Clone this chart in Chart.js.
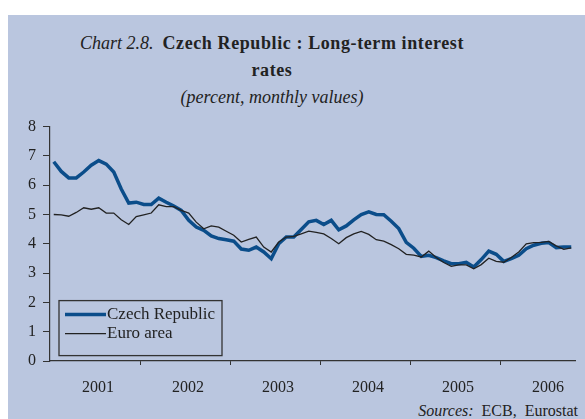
<!DOCTYPE html>
<html>
<head>
<meta charset="utf-8">
<title>Czech Republic : Long-term interest rates</title>
<script src="https://cdn.jsdelivr.net/npm/chart.js@4"></script>
<style>
  html, body { margin: 0; padding: 0; background: #fff; }
  body { width: 585px; height: 419px; position: relative; overflow: hidden; font-family: "Liberation Serif", "Times New Roman", serif; color: #222; }
  .panel { position: absolute; left: 8px; top: 15px; width: 577px; height: 404px; background: #bac6df; }
  .title { position: absolute; left: 72px; width: 400px; top: 30px; text-align: center; font-size: 18px; line-height: 27px; }
  .title b { letter-spacing: 0.6px; }
  #chart { position: absolute; left: 0; top: 110px; }
  .sources { position: absolute; right: 7px; top: 401px; font-size: 16px; line-height: 20px; }
</style>
</head>
<body>
<div class="panel"></div>
<div class="title"><i>Chart 2.8.</i>&nbsp; <b>Czech Republic : Long-term interest<br>rates</b><br><i>(percent, monthly values)</i></div>
<canvas id="chart" width="585" height="290"></canvas>
<div class="sources"><i>Sources:</i>&nbsp; ECB,&nbsp; Eurostat</div>
<script>
// monthly values, Jan 2001 - Oct 2006
const years = ['2001', '2002', '2003', '2004', '2005', '2006'];
const czech = [
  6.80, 6.47, 6.25, 6.25, 6.45, 6.68, 6.84, 6.72, 6.45, 5.87, 5.39, 5.42,
  5.34, 5.34, 5.56, 5.42, 5.29, 5.14, 4.80, 4.57, 4.46, 4.27, 4.18, 4.14,
  4.09, 3.82, 3.78, 3.89, 3.72, 3.49, 4.00, 4.23, 4.23, 4.49, 4.75, 4.80,
  4.66, 4.80, 4.48, 4.61, 4.82, 5.00, 5.09, 5.00, 4.99, 4.77, 4.52, 4.05,
  3.85, 3.57, 3.61, 3.53, 3.42, 3.32, 3.32, 3.37, 3.21, 3.46, 3.75, 3.64,
  3.40, 3.49, 3.61, 3.83, 3.95, 4.02, 4.04, 3.87, 3.89, 3.89
];
const euro = [
  5.00, 4.99, 4.94, 5.07, 5.23, 5.18, 5.23, 5.05, 5.05, 4.82, 4.66, 4.93,
  4.99, 5.05, 5.33, 5.27, 5.27, 5.14, 5.05, 4.74, 4.51, 4.61, 4.57, 4.43,
  4.29, 4.06, 4.15, 4.23, 3.89, 3.72, 4.06, 4.23, 4.25, 4.34, 4.43, 4.39,
  4.34, 4.18, 4.00, 4.21, 4.34, 4.42, 4.32, 4.14, 4.09, 3.97, 3.83, 3.64,
  3.61, 3.55, 3.75, 3.53, 3.36, 3.23, 3.28, 3.28, 3.15, 3.29, 3.51, 3.40,
  3.37, 3.53, 3.72, 4.00, 4.04, 4.05, 4.08, 3.93, 3.81, 3.86
];
const yTicks = [0, 1, 2, 3, 4, 5, 6, 7, 8];

const bg = '#bac6df';
const axisColor = '#333';
const czColor = '#0b4d8a';

function toPoints(arr) {
  return arr.map((v, i) => ({ x: i + 0.5, y: v }));
}

// legend box drawn inside the plot, bottom left
const boxLegend = {
  id: 'boxLegend',
  afterDraw(chart) {
    const { ctx, chartArea } = chart;
    const left = chartArea.left + 9, top = chartArea.top + 174;
    const w = 163, h = 55;
    ctx.save();
    ctx.fillStyle = bg;
    ctx.fillRect(left, top, w, h);
    ctx.strokeStyle = axisColor;
    ctx.lineWidth = 1.3;
    ctx.strokeRect(left, top, w, h);
    const items = [
      { label: 'Czech Republic', color: czColor, width: 3.5, y: top + 14 },
      { label: 'Euro area', color: '#222', width: 1.3, y: top + 33 }
    ];
    ctx.font = '17px "Liberation Serif"';
    ctx.textBaseline = 'middle';
    items.forEach(it => {
      ctx.beginPath();
      ctx.strokeStyle = it.color;
      ctx.lineWidth = it.width;
      ctx.moveTo(left + 6, it.y);
      ctx.lineTo(left + 47, it.y);
      ctx.stroke();
      ctx.fillStyle = '#222';
      ctx.fillText(it.label, left + 48, it.y);
    });
    ctx.restore();
  }
};

Chart.defaults.font.family = '"Liberation Serif", "Times New Roman", serif';
Chart.defaults.font.size = 16;
Chart.defaults.color = '#222';

new Chart(document.getElementById('chart'), {
  type: 'line',
  data: {
    datasets: [
      { label: 'Czech Republic', data: toPoints(czech), borderColor: czColor, borderWidth: 3.5, pointRadius: 0, order: 2 },
      { label: 'Euro area', data: toPoints(euro), borderColor: '#222', borderWidth: 1.3, pointRadius: 0, order: 1 }
    ]
  },
  options: {
    responsive: false,
    animation: false,
    layout: { padding: { top: 16, right: 10, left: 0, bottom: 0 } },
    plugins: { legend: { display: false }, tooltip: { enabled: false } },
    scales: {
      x: {
        type: 'linear',
        min: 0,
        max: czech.length,
        afterFit: s => { s.height = 39; },
        afterBuildTicks: s => {
          const t = [];
          years.forEach((y, k) => {
            t.push({ value: k * 12 + 6 });
            if (k > 0) t.push({ value: k * 12 });
          });
          s.ticks = t.sort((a, b) => a.value - b.value);
        },
        border: { color: axisColor, width: 1.2 },
        grid: {
          drawOnChartArea: false,
          tickLength: 4,
          color: c => (c.tick && c.tick.value % 12 === 0) ? axisColor : 'rgba(0,0,0,0)'
        },
        ticks: {
          autoSkip: false,
          maxRotation: 0,
          padding: 13,
          labelOffset: 3,
          callback: v => (v % 12 === 6) ? years[(v - 6) / 12] : ''
        }
      },
      y: {
        min: yTicks[0],
        max: yTicks[yTicks.length - 1],
        afterFit: s => { s.width = 50; },
        border: { color: axisColor, width: 1.2 },
        grid: { drawOnChartArea: false, tickLength: 7, color: axisColor },
        ticks: { stepSize: 1, padding: 7 }
      }
    }
  },
  plugins: [boxLegend]
});
</script>
</body>
</html>
